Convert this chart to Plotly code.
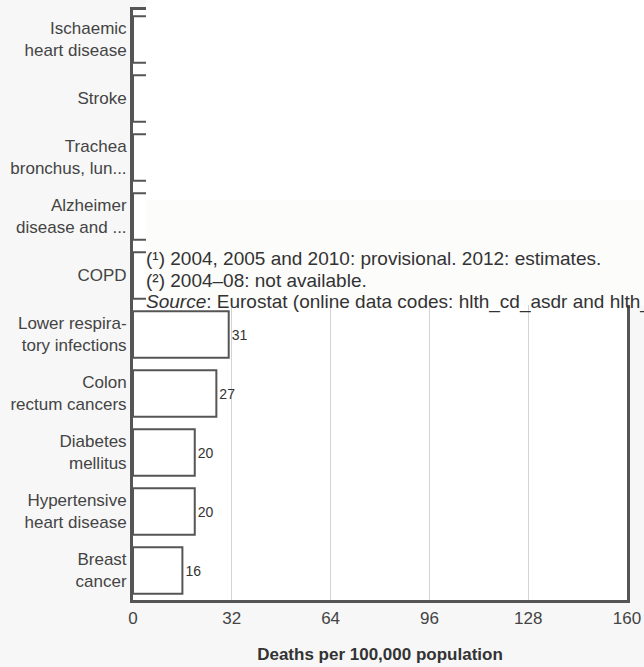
import plotly.graph_objects as go

categories = [
    "Ischaemic<br>heart disease",
    "Stroke",
    "Trachea<br>bronchus, lun...",
    "Alzheimer<br>disease and ...",
    "COPD",
    "Lower respira-<br>tory infections",
    "Colon<br>rectum cancers",
    "Diabetes<br>mellitus",
    "Hypertensive<br>heart disease",
    "Breast<br>cancer",
]
# top five values are hidden in the reference (estimated); their labels are covered
values = [131, 84, 52, 36, 33, 31, 27, 20, 20, 16]
hidden = [True, True, True, True, True, False, False, False, False, False]
x_ticks = [0, 32, 64, 96, 128, 160]
x_title = "Deaths per 100,000 population"
notes = [
    "(¹) 2004, 2005 and 2010: provisional. 2012: estimates.",
    "(²) 2004–08: not available.",
    "<i>Source</i>: Eurostat (online data codes: hlth_cd_asdr and hlth_cd_asdr2)",
]

W, H = 644, 667
L, R, T, B = 133, 17, 10, 67
PW, PH = W - L - R, H - T - B

def px(x):
    return (x - L) / PW

def py(y):
    return (H - B - y) / PH

FONT = "Liberation Sans, Arial, sans-serif"

fig = go.Figure(
    go.Bar(
        x=values,
        y=categories,
        orientation="h",
        marker=dict(color="white", line=dict(color="#555555", width=2)),
        text=["" if h else str(v) for v, h in zip(values, hidden)],
        textposition="outside",
        textfont=dict(family=FONT, size=14, color="#333333"),
        cliponaxis=False,
        hoverinfo="skip",
    )
)

fig.update_layout(
    width=W,
    height=H,
    margin=dict(l=L, r=R, t=T, b=B),
    paper_bgcolor="#f7f7f7",
    plot_bgcolor="white",
    bargap=0.21,
    showlegend=False,
    font=dict(family=FONT, size=17, color="#444444"),
)

fig.update_xaxes(
    range=[0, 160],
    tickvals=x_ticks,
    ticktext=[str(t) for t in x_ticks],
    showgrid=True,
    gridcolor="#d3d3d3",
    gridwidth=1,
    zeroline=False,
    showline=True,
    linecolor="#555555",
    linewidth=3,
    mirror=True,
    ticks="",
    automargin=False,
    ticklabelstandoff=1,
    tickfont=dict(family=FONT, size=17, color="#444444"),
    title=dict(text="<b>" + x_title + "</b>", font=dict(family=FONT, size=17, color="#333333"), standoff=21),
)
fig.update_yaxes(
    categoryorder="array",
    categoryarray=categories[::-1],
    showgrid=False,
    zeroline=False,
    showline=True,
    linecolor="#555555",
    linewidth=3,
    mirror=True,
    ticks="",
    automargin=False,
    ticklabelstandoff=0,
    tickfont=dict(family=FONT, size=17, color="#444444"),
)

# white overlay covering the upper part (pasted footnote panel)
fig.add_shape(
    type="rect", xref="paper", yref="paper",
    x0=px(146), x1=px(W + 5), y0=py(305), y1=py(-5),
    fillcolor="white", line=dict(width=0), layer="above",
)
fig.add_shape(
    type="rect", xref="paper", yref="paper",
    x0=px(146), x1=px(W + 5), y0=py(305), y1=py(200),
    fillcolor="#fcfcfb", line=dict(width=0), layer="above",
)

for note, yc in zip(notes, [258, 280, 302]):
    fig.add_annotation(
        x=px(144), y=py(yc), xref="paper", yref="paper",
        xanchor="left", yanchor="middle",
        text=note, showarrow=False,
        font=dict(family=FONT, size=19, color="#333333"),
    )

fig.write_html("out.html")
